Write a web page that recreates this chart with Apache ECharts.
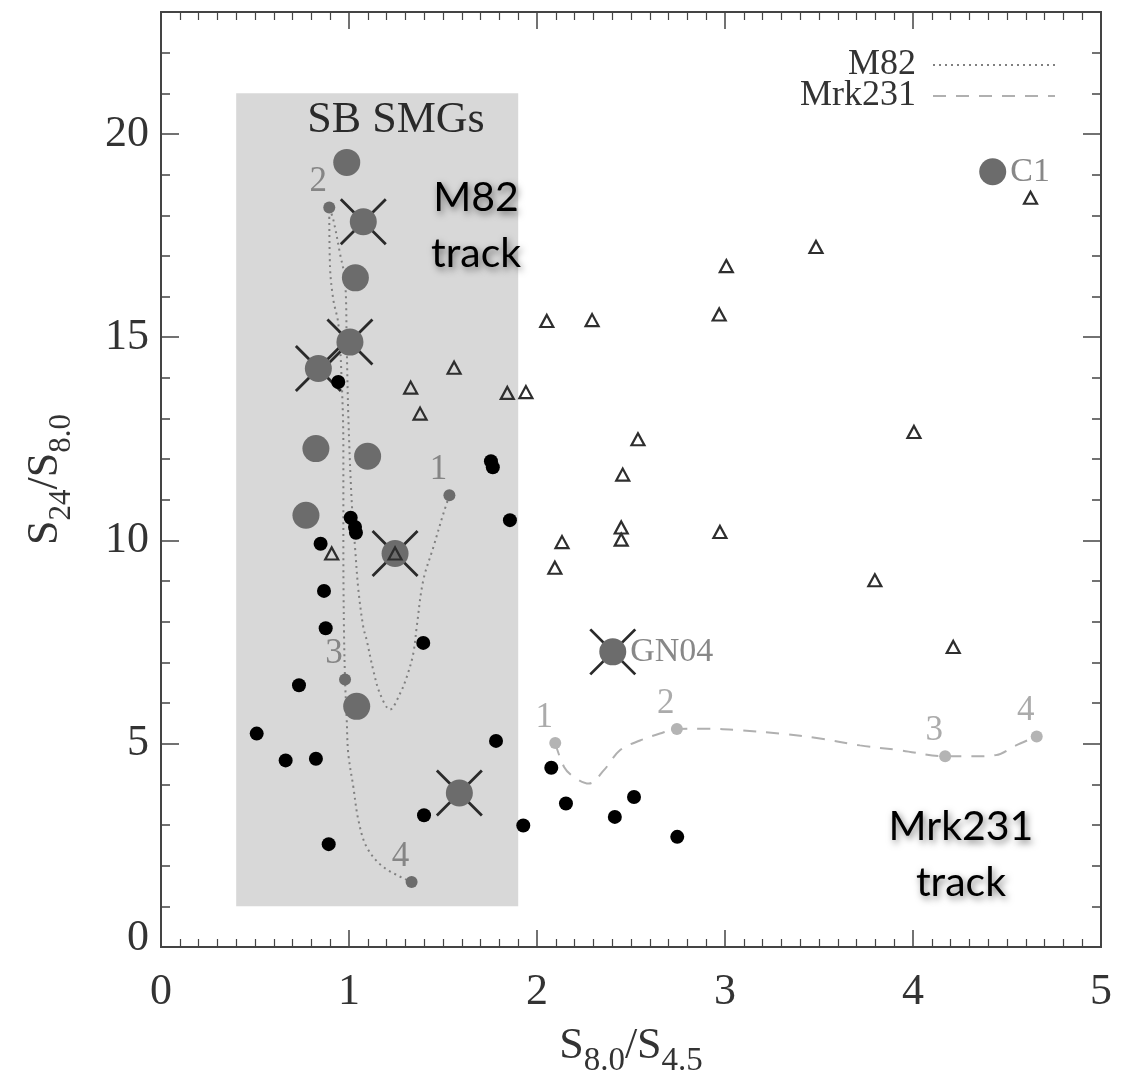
<!DOCTYPE html>
<html><head><meta charset="utf-8">
<script src="https://cdn.jsdelivr.net/npm/echarts@6/dist/echarts.min.js"></script>
<style>html,body{margin:0;padding:0;background:#fff}#c{width:1129px;height:1074px}</style>
</head><body><div id="c"></div>
<script>
// ---- data ----
const xTickValues = [0, 1, 2, 3, 4, 5];
const yTickValues = [0, 5, 10, 15, 20];
const xRange = [0, 5];
const yRange = [0, 23];
const sbBoxX = [0.4, 1.9];
const sbBoxY = [1.0, 21.0];

const blackDots = [
  [0.943,13.90],[1.755,11.95],[1.765,11.80],[1.856,10.50],[1.009,10.56],[1.032,10.33],
  [1.037,10.19],[0.849,9.92],[0.867,8.76],[0.876,7.84],[1.395,7.48],[0.734,6.44],
  [0.509,5.25],[0.663,4.59],[0.824,4.63],[1.782,5.07],[1.399,3.24],[1.927,2.99],
  [0.892,2.53],[2.076,4.41],[2.154,3.53],[2.414,3.20],[2.516,3.69],[2.746,2.71]
];
const triangles = [
  [1.328,13.76],[1.378,13.12],[1.559,14.25],[1.842,13.63],[1.941,13.65],[0.908,9.68],
  [1.245,9.68],[2.052,15.40],[2.293,15.42],[2.969,15.56],[2.537,12.49],[2.456,11.62],
  [4.005,12.67],[2.133,9.96],[2.448,10.32],[2.448,10.02],[2.973,10.21],[2.095,9.33],
  [3.797,9.02],[4.214,7.38],[4.625,18.43],[3.484,17.22],[3.007,16.75]
];
const smgNames = ['', '', '', '', '', '', 'C1'];
const smgCircles = [
  [0.988,19.30],[1.034,16.46],[0.824,12.26],[1.099,12.07],[0.771,10.62],[1.041,5.92],[4.424,19.07]
];
const crossedNames = ['', '', '', '', '', 'GN04'];
const crossedCircles = [
  [1.076,17.84],[1.005,14.88],[0.837,14.23],[1.245,9.68],[1.587,3.79],[2.403,7.26]
];
// M82 template track (1 -> 2 -> 3 -> 4)
const m82TrackX = [1.534,1.502,1.449,1.395,1.360,1.342,1.307,1.271,1.218,1.165,1.129,1.094,1.076,1.050,1.032,1.014,0.996,0.988,0.979,0.952,0.917,0.895,
                   0.899,0.917,0.943,0.961,0.970,0.970,0.973,0.979,0.988,0.996,1.023,1.050,1.094,1.182,1.333];
const m82TrackY = [11.11,10.66,9.84,9.02,7.87,7.22,6.64,6.23,5.84,6.23,6.81,7.55,7.87,8.78,9.84,10.99,13.12,14.76,16.40,17.06,17.88,18.19,
                   16.73,15.91,15.34,13.94,12.30,9.84,7.87,6.58,5.58,4.76,3.94,3.12,2.46,1.97,1.60];
const m82StepLabels = ['1','2','3','4'];
const m82StepX = [1.534, 0.895, 0.979, 1.333];
const m82StepY = [11.11, 18.19, 6.58, 1.60];
// Mrk231 template track
const mrkTrackX = [2.097,2.144,2.197,2.276,2.356,2.441,2.548,2.654,2.744,2.910,3.080,3.293,3.505,3.718,3.931,4.171,4.314,4.441,4.548,4.658];
const mrkTrackY = [5.02,4.43,4.18,4.02,4.35,4.84,5.08,5.25,5.36,5.37,5.33,5.25,5.13,4.96,4.84,4.69,4.69,4.72,4.96,5.18];
const mrkStepLabels = ['1','2','3','4'];
const mrkStepX = [2.097, 2.744, 4.171, 4.658];
const mrkStepY = [5.02, 5.36, 4.69, 5.18];
// annotation anchors (data coordinates)
const boxTitle = {text: 'SB SMGs', x: 1.25, y: 20.34};
const trackNotes = [
  {text: 'M82\ntrack', x: 1.676, y: 17.75},
  {text: 'Mrk231\ntrack', x: 4.255, y: 2.28}
];

// ---- chart ----
const SERIF = '"Liberation Serif", "DejaVu Serif", serif';
const AX = '#444';
const zip = (xs, ys) => xs.map((x, i) => [x, ys[i]]);

function baseX(pos, labels) {
  return {
    type: 'value', position: pos, min: xRange[0], max: xRange[1], interval: 1,
    axisLine: {show: true, onZero: false, lineStyle: {color: AX, width: 2}},
    axisTick: {show: true, inside: true, length: 17, lineStyle: {color: AX, width: 1.5}},
    minorTick: {show: true, splitNumber: 10, length: 8, lineStyle: {color: AX, width: 1.2}},
    splitLine: {show: false}, minorSplitLine: {show: false},
    axisLabel: labels ? {show: true, margin: 23, color: '#333', fontFamily: SERIF, fontSize: 44} : {show: false}
  };
}
function baseY(pos, interval, tickLen, labels) {
  return {
    type: 'value', position: pos, min: yRange[0], max: yRange[1], interval: interval,
    axisLine: {show: true, onZero: false, lineStyle: {color: AX, width: 2}},
    axisTick: {show: true, inside: true, length: tickLen, lineStyle: {color: AX, width: 1.5}},
    splitLine: {show: false},
    axisLabel: labels ? {
      show: true, margin: 12, color: '#333', fontFamily: SERIF, fontSize: 44, showMaxLabel: false,
      formatter: v => (yTickValues.indexOf(v) === -1 ? '' : (v === 0 ? '{z|0}' : String(v))),
      rich: {z: {fontFamily: SERIF, fontSize: 44, color: '#333', padding: [0, 0, 18, 0]}}
    } : {show: false}
  };
}

const xAxis0 = baseX('bottom', true);
xAxis0.name = '{s|S}{sub|8.0}{s|/S}{sub|4.5}';
xAxis0.nameLocation = 'middle';
xAxis0.nameGap = 77;
xAxis0.nameTextStyle = {
  rich: {
    s: {fontFamily: SERIF, fontSize: 44, color: '#333', verticalAlign: 'bottom', padding: [0, 0, 10, 0]},
    sub: {fontFamily: SERIF, fontSize: 33, color: '#333', verticalAlign: 'bottom'}
  }
};
const yAxis0 = baseY('left', 5, 18, true);
yAxis0.name = '{s|S}{sub|24}{s|/S}{sub|8.0}';
yAxis0.nameLocation = 'middle';
yAxis0.nameGap = 84;
yAxis0.nameTextStyle = {
  rich: {
    s: {fontFamily: SERIF, fontSize: 44, color: '#333', verticalAlign: 'bottom', padding: [0, 0, 10, 0]},
    sub: {fontFamily: SERIF, fontSize: 31, color: '#333', verticalAlign: 'bottom'}
  }
};

const crossPath = 'path://M0,0L10,10M10,0L0,10';

const option = {
  backgroundColor: '#fff',
  animation: false,
  grid: {left: 161, right: 28, top: 12, bottom: 127, containLabel: false, outerBoundsMode: 'none'},
  legend: {
    orient: 'vertical', right: 68, top: 42, align: 'right',
    itemWidth: 122, itemHeight: 12, itemGap: -5,
    data: ['M82', 'Mrk231'],
    itemStyle: {opacity: 0},
    textStyle: {fontFamily: SERIF, fontSize: 36, color: '#333', lineHeight: 32, padding: [0, 12, 0, 0]}
  },
  xAxis: [xAxis0, baseX('top', false)],
  yAxis: [yAxis0, baseY('left', 1, 9, false), baseY('right', 5, 18, false), baseY('right', 1, 9, false)],
  series: [
    {
      name: 'box', type: 'scatter', data: [], z: 0, silent: true,
      markArea: {
        silent: true,
        itemStyle: {color: '#d8d8d8', opacity: 1},
        label: {show: false},
        data: [[{coord: [sbBoxX[0], sbBoxY[0]]}, {coord: [sbBoxX[1], sbBoxY[1]]}]]
      }
    },
    {
      name: 'M82', type: 'line', data: zip(m82TrackX, m82TrackY), z: 2,
      symbol: 'none', showSymbol: false, smooth: 0.35, silent: true,
      lineStyle: {color: '#808080', width: 2, type: [2, 4]},
      itemStyle: {color: '#808080'}
    },
    {
      name: 'Mrk231', type: 'line', data: zip(mrkTrackX, mrkTrackY), z: 2,
      symbol: 'none', showSymbol: false, smooth: 0.35, silent: true,
      lineStyle: {color: '#b0b0b0', width: 2, type: [13, 10]},
      itemStyle: {color: '#b0b0b0'}
    },
    {
      name: 'cross', type: 'scatter', data: crossedCircles, z: 3, silent: true,
      symbol: crossPath, symbolSize: 45,
      itemStyle: {color: 'none', borderColor: '#2a2a2a', borderWidth: 2.8, opacity: 1}
    },
    {
      name: 'crossed', type: 'scatter', z: 4, silent: true,
      data: crossedCircles.map((p, i) => ({value: p, name: crossedNames[i]})),
      symbol: 'circle', symbolSize: 27, itemStyle: {color: '#6c6c6c', opacity: 1},
      label: {show: true, position: 'right', distance: 4, formatter: p => p.name,
        fontFamily: SERIF, fontSize: 34, color: '#888'}
    },
    {
      name: 'smg', type: 'scatter', z: 4, silent: true,
      data: smgCircles.map((p, i) => ({value: p, name: smgNames[i]})),
      symbol: 'circle', symbolSize: 27, itemStyle: {color: '#6c6c6c', opacity: 1},
      label: {show: true, position: 'right', distance: 4, formatter: p => p.name,
        fontFamily: SERIF, fontSize: 34, color: '#888'}
    },
    {
      name: 'black', type: 'scatter', data: blackDots, z: 4, silent: true,
      symbol: 'circle', symbolSize: 14, itemStyle: {color: '#000', opacity: 1}
    },
    {
      name: 'tri', type: 'scatter', data: triangles, z: 5, silent: true,
      symbol: 'triangle', symbolSize: [13, 12],
      itemStyle: {color: 'rgba(0,0,0,0)', borderColor: '#2e2e2e', borderWidth: 2.2, opacity: 1}
    },
    {
      name: 'm82pts', type: 'scatter', z: 5, silent: true,
      data: m82StepX.map((x, i) => ({value: [x, m82StepY[i]], name: m82StepLabels[i]})),
      symbol: 'circle', symbolSize: 12, itemStyle: {color: '#6c6c6c', opacity: 1},
      label: {show: true, position: 'top', distance: 2, offset: [-11, 0], formatter: p => p.name,
        fontFamily: SERIF, fontSize: 35, color: '#858585'}
    },
    {
      name: 'mrkpts', type: 'scatter', z: 5, silent: true,
      data: mrkStepX.map((x, i) => ({value: [x, mrkStepY[i]], name: mrkStepLabels[i]})),
      symbol: 'circle', symbolSize: 12, itemStyle: {color: '#b4b4b4', opacity: 1},
      label: {show: true, position: 'top', distance: 2, offset: [-11, 0], formatter: p => p.name,
        fontFamily: SERIF, fontSize: 35, color: '#ababab'}
    },
    {
      name: 'boxTitle', type: 'scatter', z: 6, silent: true, symbolSize: 0,
      itemStyle: {opacity: 1},
      data: [{value: [boxTitle.x, boxTitle.y], name: boxTitle.text}],
      label: {show: true, position: 'inside', formatter: p => p.name,
        fontFamily: SERIF, fontSize: 44, color: '#2a2a2a'}
    },
    {
      name: 'notes', type: 'scatter', z: 7, silent: true, symbolSize: 0,
      itemStyle: {opacity: 1},
      data: trackNotes.map(n => ({value: [n.x, n.y], name: n.text})),
      label: {show: true, position: 'inside', formatter: p => p.name, align: 'center',
        fontFamily: 'Lato, "Open Sans", sans-serif', fontSize: 41, lineHeight: 56, color: '#000',
        textShadowColor: 'rgba(0,0,0,0.5)', textShadowBlur: 7, textShadowOffsetX: 2, textShadowOffsetY: 3}
    }
  ]
};
const chart = echarts.init(document.getElementById('c'), null, {renderer: 'canvas'});
chart.setOption(option);
</script></body></html>
